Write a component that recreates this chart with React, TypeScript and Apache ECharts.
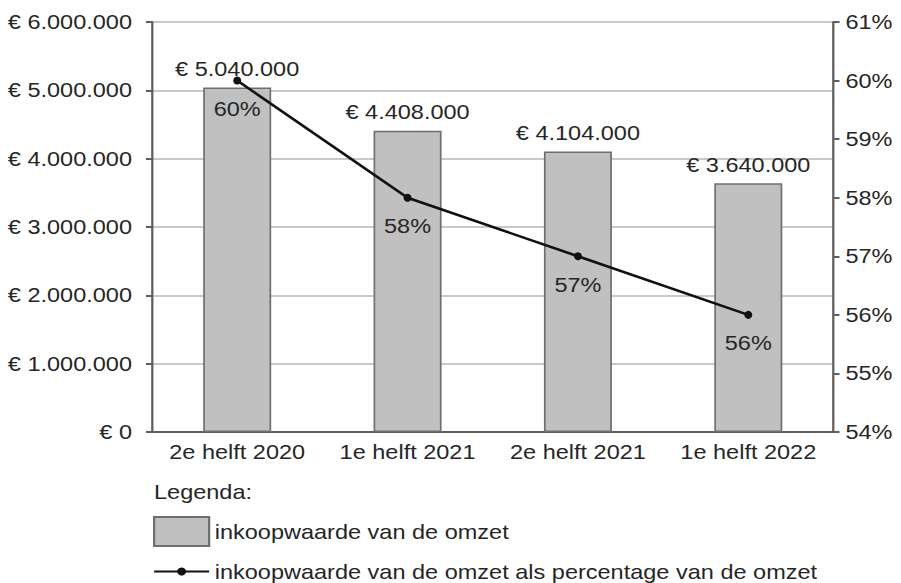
import React, { useEffect, useRef } from "react";
import * as echarts from "echarts";

const categories = ["2e helft 2020", "1e helft 2021", "2e helft 2021", "1e helft 2022"];
const inkoopwaarde = [5040000, 4408000, 4104000, 3640000];
const percentage = [60, 58, 57, 56];
const barName = "inkoopwaarde van de omzet";
const lineName = "inkoopwaarde van de omzet als percentage van de omzet";

const S = 1.12; // horizontal stretch of the reference
const W = 901 / S;
const H = 583;
const FONT = "'Liberation Sans', Arial, sans-serif";
const FS = 21;
const TXT = "#262626";

function euro(v: number): string {
  return "€ " + String(v).replace(/\B(?=(\d{3})+(?!\d))/g, ".");
}

export default function App() {
  const ref = useRef<HTMLDivElement>(null);
  useEffect(() => {
    if (!ref.current) return;
    const chart = echarts.init(ref.current, null, { renderer: "svg" });
    const axisLine = { show: true, lineStyle: { color: "#5e5e5e", width: 2 } };
    chart.setOption({
      animation: false,
      backgroundColor: "#ffffff",
      textStyle: { fontFamily: FONT },
      title: {
        text: "Legenda:",
        left: 154 / S,
        top: 481,
        padding: 0,
        textStyle: { fontFamily: FONT, fontSize: FS, fontWeight: "normal", color: TXT },
      },
      legend: [
        {
          data: [{ name: barName, icon: "rect" }],
          left: 153 / S,
          top: 516,
          padding: 0,
          itemWidth: 55 / S,
          itemHeight: 29,
          selectedMode: false,
          textStyle: { fontFamily: FONT, fontSize: FS, color: TXT },
        },
        {
          data: [{ name: lineName }],
          left: 153 / S,
          top: 561,
          padding: 0,
          itemWidth: 55 / S,
          itemHeight: 10,
          selectedMode: false,
          textStyle: { fontFamily: FONT, fontSize: FS, color: TXT },
        },
      ],
      grid: { left: 152 / S, right: (901 - 834) / S, top: 22, bottom: H - 432, containLabel: false },
      xAxis: {
        type: "category",
        data: categories,
        axisLine,
        axisTick: { show: false },
        axisLabel: { interval: 0, margin: 9, fontFamily: FONT, fontSize: FS, color: TXT },
        splitLine: { show: false },
      },
      yAxis: [
        {
          type: "value",
          min: 0,
          max: 6000000,
          interval: 1000000,
          position: "left",
          axisLine,
          axisTick: { show: true, length: 6 / S, lineStyle: { color: "#5e5e5e", width: 2 } },
          axisLabel: { margin: 14 / S + 6 / S, fontFamily: FONT, fontSize: FS, color: TXT, formatter: (v: number) => euro(v) },
          splitLine: { show: true, lineStyle: { color: "#c9c9c9", width: 2 } },
        },
        {
          type: "value",
          min: 54,
          max: 61,
          interval: 1,
          position: "right",
          axisLine,
          axisTick: { show: true, length: 6 / S, lineStyle: { color: "#5e5e5e", width: 2 } },
          axisLabel: { margin: 12 / S, fontFamily: FONT, fontSize: FS, color: TXT, formatter: "{value}%" },
          splitLine: { show: false },
        },
      ],
      series: [
        {
          name: barName,
          type: "bar",
          data: inkoopwaarde,
          barWidth: 68 / S,
          itemStyle: { color: "#c0c0c0", borderColor: "#6e6e6e", borderWidth: 1.5 },
          label: {
            show: true,
            position: "top",
            distance: 8,
            fontFamily: FONT,
            fontSize: FS,
            color: TXT,
            formatter: (p: any) => euro(p.value),
          },
          z: 2,
        },
        {
          name: lineName,
          type: "line",
          yAxisIndex: 1,
          data: percentage,
          symbol: "circle",
          symbolSize: [8 / S, 8],
          lineStyle: { color: "#111111", width: 2.5 },
          itemStyle: { color: "#111111" },
          label: {
            show: true,
            position: "bottom",
            distance: 14,
            fontFamily: FONT,
            fontSize: FS,
            color: TXT,
            formatter: "{c}%",
          },
          z: 3,
        },
      ],
    });
    return () => chart.dispose();
  }, []);
  return (
    <div
      ref={ref}
      style={{
        position: "absolute",
        left: 0,
        top: 0,
        width: W + "px",
        height: H + "px",
        transform: `scaleX(${S})`,
        transformOrigin: "0 0",
        background: "#fff",
      }}
    />
  );
}
